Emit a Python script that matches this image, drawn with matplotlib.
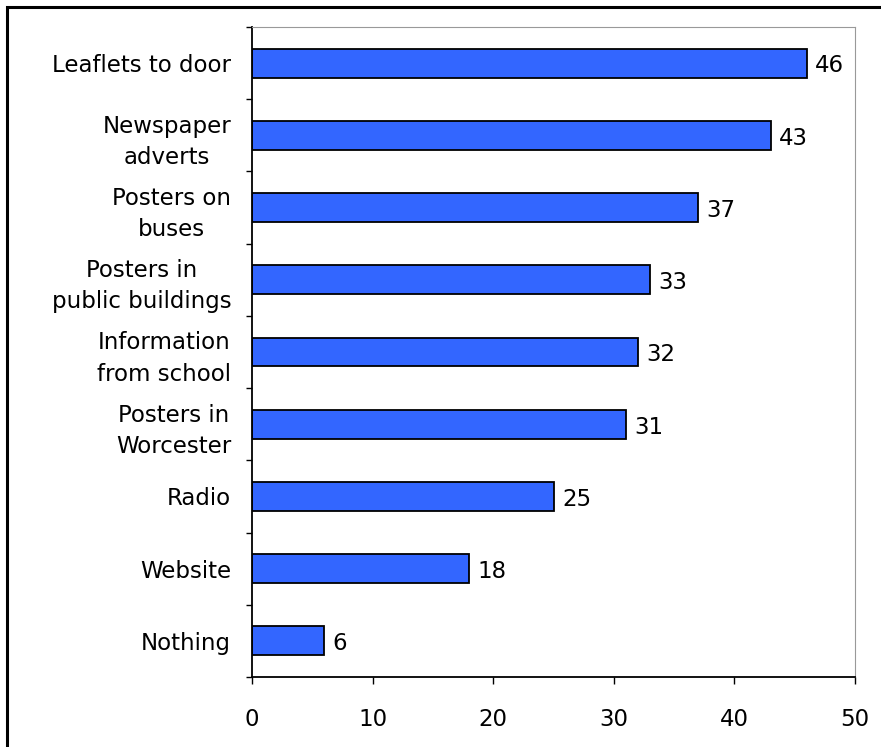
import matplotlib.pyplot as plt
from matplotlib.patches import Rectangle

# donnees
categories = ["Leaflets to door", "Newspaper\nadverts", "Posters on\nbuses",
              "Posters in\npublic buildings", "Information\nfrom school",
              "Posters in\nWorcester", "Radio", "Website", "Nothing"]
valeurs = [46, 43, 37, 33, 32, 31, 25, 18, 6]

fig = plt.figure(figsize=(8.81, 7.47), dpi=100)
ax = fig.add_axes([252/881, 1-677/747, (855-252)/881, (677-27)/747])

pos = list(range(len(categories)))[::-1]
ax.barh(pos, valeurs, height=0.4, color="#3366FF", edgecolor="black", linewidth=1.3)

for p, v in zip(pos, valeurs):
    ax.text(v + 0.7, p - 0.04, str(v), va="center", ha="left", fontsize=16.5)

ax.set_xlim(0, 50)
ax.set_ylim(-0.5, len(categories) - 0.5)
ax.set_xticks(range(0, 51, 10))
ax.tick_params(axis="x", labelsize=16.5, length=5, width=1, pad=17)

# ticks entre les categories, labels au centre
ax.set_yticks([i + 0.5 for i in range(-1, len(categories))])
ax.set_yticklabels([])
ax.set_yticks(pos, minor=True)
ax.set_yticklabels(categories, minor=True, fontsize=16.5, multialignment="center",
                   linespacing=1.45)
ax.tick_params(axis="y", which="major", length=4.5, width=1)
ax.tick_params(axis="y", which="minor", length=0, pad=15)

for s in ["top", "right"]:
    ax.spines[s].set_color("#999999")
for s in ["left", "bottom"]:
    ax.spines[s].set_linewidth(1.3)

# cadre exterieur
fig.patches.append(Rectangle((7/881, -0.05), 1.05, 1 - 7/747 + 0.05, transform=fig.transFigure,
                             fill=False, edgecolor="black", linewidth=2.2))

fig.savefig("out.png", dpi=100)
